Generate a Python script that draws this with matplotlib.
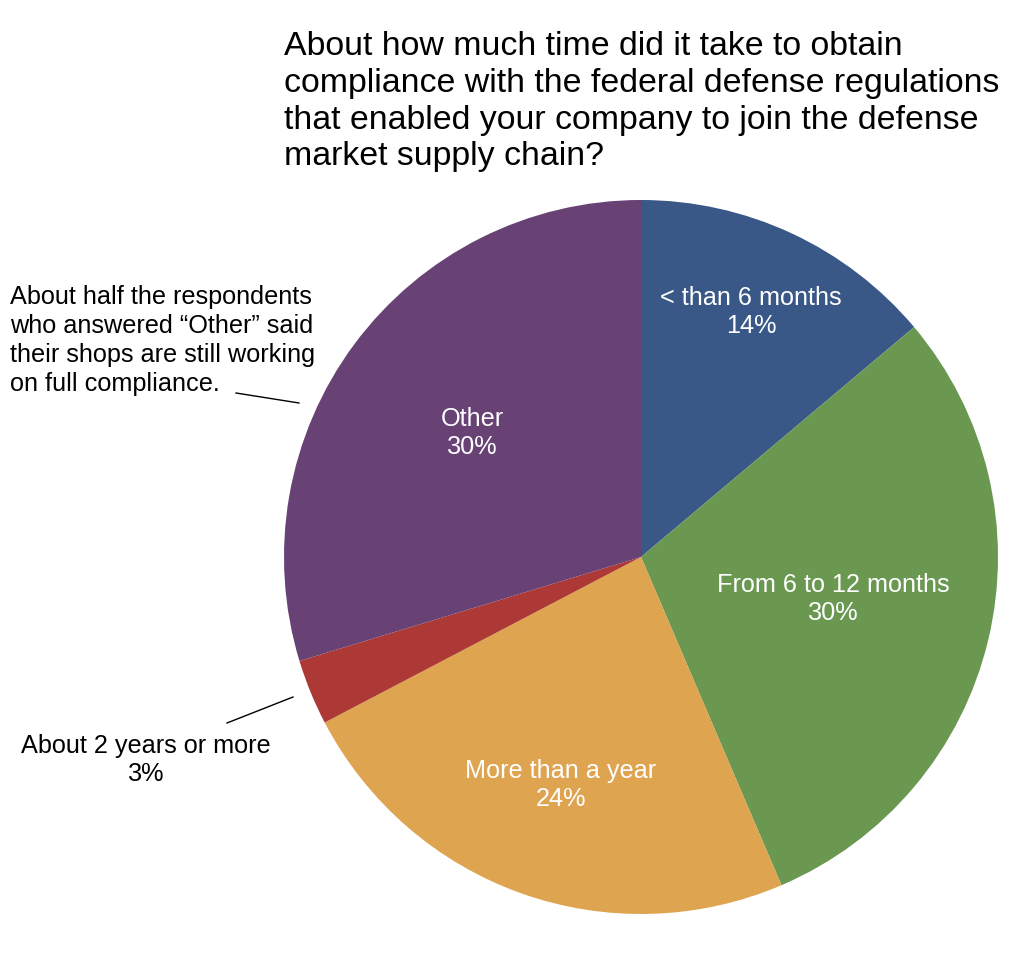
import matplotlib
matplotlib.use("Agg")
import matplotlib.pyplot as plt

# data
categories = ["< than 6 months", "From 6 to 12 months", "More than a year",
              "About 2 years or more", "Other"]
percents = [14, 30, 24, 3, 30]
colors = ["#395887", "#6A9850", "#DFA450", "#AD3937", "#684175"]

title = ("About how much time did it take to obtain\n"
         "compliance with the federal defense regulations\n"
         "that enabled your company to join the defense\n"
         "market supply chain?")
note = ("About half the respondents\n"
        "who answered \u201cOther\u201d said\n"
        "their shops are still working\n"
        "on full compliance.")

plt.rcParams['font.family'] = ['Liberation Sans', 'DejaVu Sans']

W, H = 1024, 955
fig = plt.figure(figsize=(W / 100, H / 100), dpi=100)
ax = fig.add_axes([0, 0, 1, 1])

cx, cy, r = 641, H - 557, 357
wedges, _ = ax.pie(percents, colors=colors, startangle=90, counterclock=False,
                   center=(cx, cy), radius=r, frame=True,
                   wedgeprops=dict(linewidth=0))
ax.set_xlim(0, W)
ax.set_ylim(0, H)
ax.set_aspect('auto')
ax.axis('off')

def lab(i):
    return f"{categories[i]}\n{percents[i]}%"

fs = 18.2
# labels inside the pie
inside = {0: (751, 312), 1: (833, 599), 2: (561, 785), 4: (472, 433)}
for i, (px, py) in inside.items():
    ax.text(px, H - py, lab(i), color="white", fontsize=fs, ha='center',
            va='center', linespacing=1.25)

# small slice label outside
ax.text(146, H - 760, lab(3), color="black", fontsize=fs, ha='center',
        va='center', linespacing=1.25)
ax.plot([227, 293], [H - 723, H - 697], color="black", linewidth=1)

# note about "Other"
ax.text(10, H - 285, note, color="black", fontsize=fs, ha='left', va='top',
        linespacing=1.26)
ax.plot([236, 299], [H - 393, H - 403], color="black", linewidth=1)

ax.text(284, H - 31, title, color="black", fontsize=24.4, ha='left', va='top',
        linespacing=1.24)

fig.savefig("out.png", dpi=100)
